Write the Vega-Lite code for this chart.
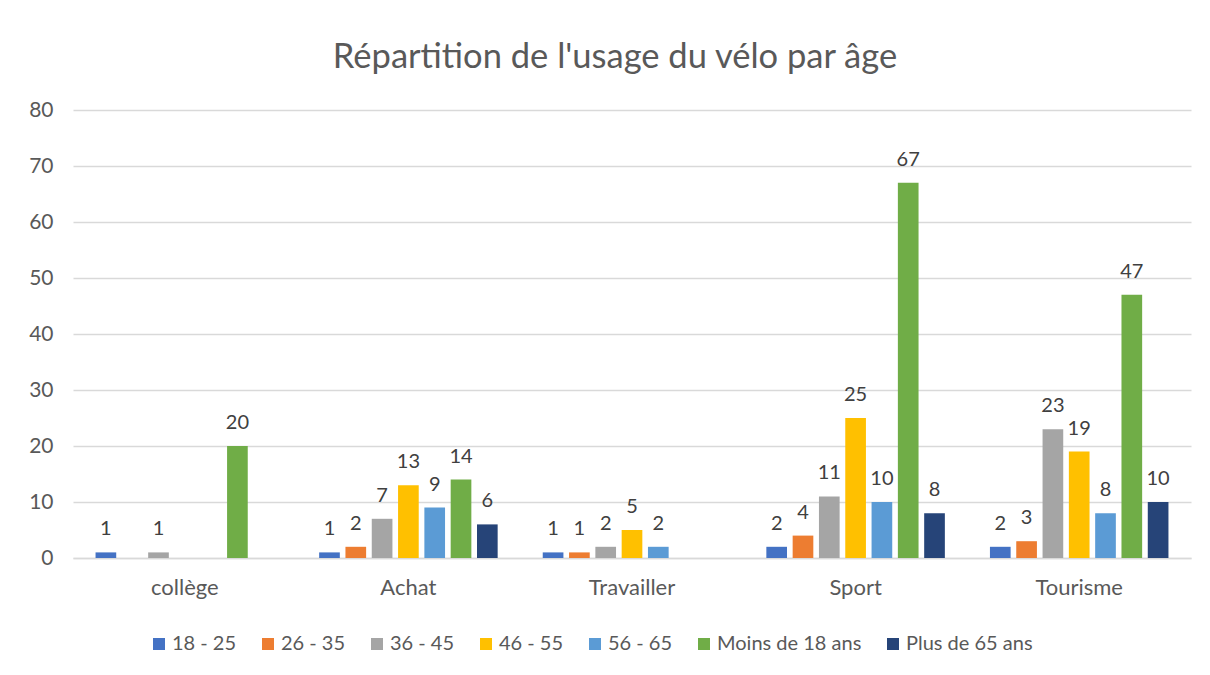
{
  "$schema": "https://vega.github.io/schema/vega-lite/v6.json",
  "width": 1118,
  "height": 448,
  "autosize": {"type": "none"},
  "padding": {"left": 73, "top": 110, "right": 19, "bottom": 117},
  "background": "white",
  "title": {
    "text": "Répartition de l'usage du vélo par âge",
    "font": "Lato",
    "fontSize": 34.5,
    "fontWeight": "normal",
    "color": "#595959",
    "anchor": "middle",
    "dx": -17,
    "offset": 24
  },
  "config": {
    "view": {"stroke": null},
    "font": "Lato"
  },
  "data": {
    "values": [
      {"usage": "collège", "age": "18 - 25", "value": 1},
      {"usage": "collège", "age": "36 - 45", "value": 1},
      {"usage": "collège", "age": "Moins de 18 ans", "value": 20},
      {"usage": "Achat", "age": "18 - 25", "value": 1},
      {"usage": "Achat", "age": "26 - 35", "value": 2},
      {"usage": "Achat", "age": "36 - 45", "value": 7},
      {"usage": "Achat", "age": "46 - 55", "value": 13},
      {"usage": "Achat", "age": "56 - 65", "value": 9},
      {"usage": "Achat", "age": "Moins de 18 ans", "value": 14},
      {"usage": "Achat", "age": "Plus de 65 ans", "value": 6},
      {"usage": "Travailler", "age": "18 - 25", "value": 1},
      {"usage": "Travailler", "age": "26 - 35", "value": 1},
      {"usage": "Travailler", "age": "36 - 45", "value": 2},
      {"usage": "Travailler", "age": "46 - 55", "value": 5},
      {"usage": "Travailler", "age": "56 - 65", "value": 2},
      {"usage": "Sport", "age": "18 - 25", "value": 2},
      {"usage": "Sport", "age": "26 - 35", "value": 4},
      {"usage": "Sport", "age": "36 - 45", "value": 11},
      {"usage": "Sport", "age": "46 - 55", "value": 25},
      {"usage": "Sport", "age": "56 - 65", "value": 10},
      {"usage": "Sport", "age": "Moins de 18 ans", "value": 67},
      {"usage": "Sport", "age": "Plus de 65 ans", "value": 8},
      {"usage": "Tourisme", "age": "18 - 25", "value": 2},
      {"usage": "Tourisme", "age": "26 - 35", "value": 3},
      {"usage": "Tourisme", "age": "36 - 45", "value": 23},
      {"usage": "Tourisme", "age": "46 - 55", "value": 19},
      {"usage": "Tourisme", "age": "56 - 65", "value": 8},
      {"usage": "Tourisme", "age": "Moins de 18 ans", "value": 47},
      {"usage": "Tourisme", "age": "Plus de 65 ans", "value": 10}
    ]
  },
  "encoding": {
    "x": {
      "field": "usage",
      "type": "nominal",
      "sort": ["collège", "Achat", "Travailler", "Sport", "Tourisme"],
      "scale": {"paddingInner": 0, "paddingOuter": 0},
      "axis": {
        "title": null,
        "labelAngle": 0,
        "labelFont": "Lato",
        "labelFontSize": 22,
        "labelColor": "#595959",
        "labelPadding": 19,
        "ticks": false,
        "domain": true,
        "domainColor": "#D9D9D9",
        "domainWidth": 1.5
      }
    },
    "xOffset": {
      "field": "age",
      "type": "nominal",
      "sort": ["18 - 25", "26 - 35", "36 - 45", "46 - 55", "56 - 65", "Moins de 18 ans", "Plus de 65 ans"],
      "scale": {
        "domain": ["18 - 25", "26 - 35", "36 - 45", "46 - 55", "56 - 65", "Moins de 18 ans", "Plus de 65 ans"],
        "paddingInner": 0.214,
        "paddingOuter": 0.857
      }
    },
    "y": {
      "field": "value",
      "type": "quantitative",
      "scale": {"domain": [0, 80], "nice": false},
      "axis": {
        "title": null,
        "values": [0, 10, 20, 30, 40, 50, 60, 70, 80],
        "grid": true,
        "gridColor": "#D9D9D9",
        "gridWidth": 1.5,
        "domain": false,
        "ticks": false,
        "labelFont": "Lato",
        "labelFontSize": 21,
        "labelColor": "#595959",
        "labelPadding": 20
      }
    }
  },
  "layer": [
    {
      "mark": {"type": "bar"},
      "encoding": {
        "color": {
          "field": "age",
          "type": "nominal",
          "scale": {
            "domain": ["18 - 25", "26 - 35", "36 - 45", "46 - 55", "56 - 65", "Moins de 18 ans", "Plus de 65 ans"],
            "range": ["#4472C4", "#ED7D31", "#A5A5A5", "#FFC000", "#5B9BD5", "#70AD47", "#264478"]
          },
          "legend": {
            "title": null,
            "orient": "none",
            "legendX": 76,
            "legendY": 524,
            "direction": "horizontal",
            "columns": 7,
            "columnPadding": 21,
            "symbolType": "square",
            "symbolSize": 144,
            "symbolStrokeWidth": 0,
            "labelOffset": 3,
            "labelFont": "Lato",
            "labelFontSize": 20,
            "labelColor": "#595959",
            "labelLimit": 0
          }
        }
      }
    },
    {
      "mark": {
        "type": "text",
        "baseline": "alphabetic",
        "dy": -17,
        "font": "Lato",
        "fontSize": 20,
        "color": "#404040"
      },
      "encoding": {
        "text": {"field": "value", "type": "quantitative"}
      }
    }
  ]
}
